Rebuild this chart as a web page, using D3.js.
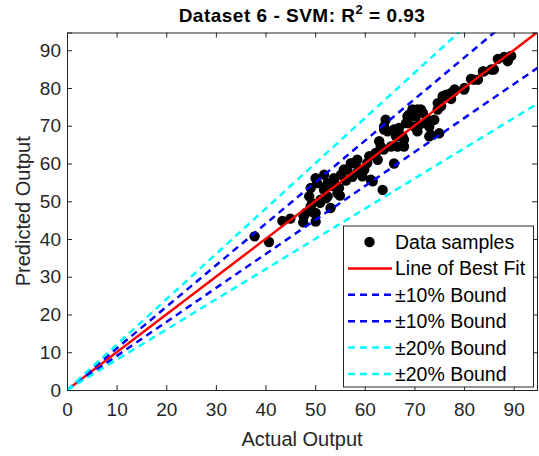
<!DOCTYPE html>
<html><head><meta charset="utf-8">
<script src="https://cdn.jsdelivr.net/npm/d3@7"></script>
<style>
html,body{margin:0;padding:0;background:#fff;}
svg{display:block;font-family:"Liberation Sans",Arial,Helvetica,sans-serif;}
</style></head>
<body>
<svg id="chart" width="539" height="456"></svg>
<script>
// Data: [actual, predicted]
const actual = [37.8,40.7,43.4,45,47.6,48.1,47.7,49.8,49.4,51,50.1,48.8,49.1,50.1,51.1,52.5,54.5,53.5,51.8,53.1,49.1,50.1,50.4,51.8,53.8,55.8,57.2,58.5,60.5,61.2,52.5,51.8,53.8,55.2,56.5,57.9,59.5,59.9,61.6,63.6,62.2,62.9,63.9,64.6,64.2,63.9,63.8,65.3,65.9,67.9,66.3,66.6,66.9,67.6,68.3,68.6,69.3,70,70.6,69.6,68.9,70.3,71.7,71,73,74,73,75,72,71.3,70.6,74.7,75.4,75.7,76.4,77.4,77.4,78.1,80.1,81.4,82.8,83.8,85.5,86.8,88.1,89.5,59.2,62.6,60.9,63.2,65.9,67.9,68.6,72.6,73.3,74.7,76,78,80,82,84,86,88.8,54.8,56.2,57.5,58.6,55,52.2];
const predicted = [40.7,39.2,44.8,45.4,44.4,46.9,46,46.9,49.5,49.6,44.6,51.3,48.6,46.9,50.4,51.3,52.1,54,53,48.2,53.5,56.1,54.8,57,55.7,58.4,60.1,61,60.1,55.7,54.8,53.5,56.1,57,58.4,60.1,56.6,58.4,55.3,53,62.8,65.9,69.8,68.5,71.6,69,63.7,64.5,60,64.5,67.2,64.5,69.4,67.2,70.7,70.7,72.5,69.8,74.3,74.3,72.9,72.5,73.4,70.3,69.8,71.6,67.2,68,70.7,74.3,68.5,74.3,75.2,77.8,78.2,77.1,78.7,79.6,80,82.4,82.2,84.4,84.9,87.7,88.2,88.5,58.4,61,61.9,64.5,69,66.3,72.5,71.6,67.6,76,77.8,79.1,79.6,82.2,84.4,84.9,87.1,53.5,55.5,56.5,57.8,51.5,50.8];
const xTicks = [0,10,20,30,40,50,60,70,80,90];
const yTicks = [0,10,20,30,40,50,60,70,80,90];
const boundFactors = [1, 1.1, 0.9, 1.2, 0.8];
const legendLabels = ["Data samples","Line of Best Fit","\u00b110% Bound","\u00b110% Bound","\u00b120% Bound","\u00b120% Bound"];

const svg = d3.select("#chart");
const L = 67, R = 537, T = 32.5, B = 390;
const axMax = 94.7;
const x = d3.scaleLinear().domain([0, axMax]).range([L, R]);
const y = d3.scaleLinear().domain([0, axMax]).range([B, T]);
const axisCol = "#262626";

svg.append("clipPath").attr("id","clip").append("rect")
  .attr("x",L).attr("y",T).attr("width",R-L).attr("height",B-T);

// Scatter
const pts = actual.map((a,i)=>[a,predicted[i]]);
svg.append("g").attr("clip-path","url(#clip)").selectAll("circle").data(pts).enter()
  .append("circle").attr("cx",d=>x(d[0])).attr("cy",d=>y(d[1])).attr("r",5.2).attr("fill","#000");

// Lines
const lineStyles = [
  {c:"#ff0000", dash:null},
  {c:"#0000ff", dash:"7,5"},
  {c:"#0000ff", dash:"7,5"},
  {c:"#00ffff", dash:"7,5"},
  {c:"#00ffff", dash:"7,5"}
];
const lg = svg.append("g").attr("clip-path","url(#clip)");
boundFactors.forEach((k,i)=>{
  lg.append("line")
    .attr("x1",x(0)).attr("y1",y(0))
    .attr("x2",x(100)).attr("y2",y(100*k))
    .attr("stroke",lineStyles[i].c).attr("stroke-width",2.5)
    .attr("stroke-dasharray",lineStyles[i].dash);
});

// Axes
const tickLen = 5;
const xAxB = d3.axisBottom(x).tickValues(xTicks).tickSize(-tickLen).tickPadding(13).tickFormat(d3.format("d"));
const xAxT = d3.axisTop(x).tickValues(xTicks).tickSize(-tickLen).tickFormat("");
const yAxL = d3.axisLeft(y).tickValues(yTicks).tickSize(-tickLen).tickPadding(6).tickFormat(d3.format("d"));
const yAxR = d3.axisRight(y).tickValues(yTicks).tickSize(-tickLen).tickFormat("");
function styleAx(g){
  g.selectAll("path").attr("stroke",axisCol).attr("stroke-width",1);
  g.selectAll("line").attr("stroke",axisCol).attr("stroke-width",1);
  g.selectAll("text").attr("fill",axisCol).style("font-size","19px").style("font-family","'Liberation Sans',Arial,sans-serif");
}
svg.append("g").attr("transform",`translate(0,${B})`).call(xAxB).call(styleAx);
svg.append("g").attr("transform",`translate(0,${T})`).call(xAxT).call(styleAx);
svg.append("g").attr("transform",`translate(${L},0)`).call(yAxL).call(styleAx);
svg.append("g").attr("transform",`translate(${R},0)`).call(yAxR).call(styleAx);

// Title
const title = svg.append("text").attr("x",(L+R)/2).attr("y",22).attr("text-anchor","middle")
  .attr("fill","#000").style("font-weight","bold").style("font-size","19px").style("letter-spacing","0.5px");
title.append("tspan").text("Dataset 6 - SVM: R");
title.append("tspan").attr("dy",-8).style("font-size","13px").text("2");
title.append("tspan").attr("dy",8).text(" = 0.93");

// Axis labels
svg.append("text").attr("x",(L+R)/2).attr("y",446).attr("text-anchor","middle")
  .attr("fill",axisCol).style("font-size","20px").text("Actual Output");
svg.append("text").attr("transform",`translate(30,${(T+B)/2}) rotate(-90)`).attr("text-anchor","middle")
  .attr("fill",axisCol).style("font-size","20px").text("Predicted Output");

// Legend
const lgX = 343.5, lgY = 226, lgW = 190, lgH = 161;
const leg = svg.append("g");
leg.append("rect").attr("x",lgX).attr("y",lgY).attr("width",lgW).attr("height",lgH)
  .attr("fill","#fff").attr("stroke",axisCol).attr("stroke-width",1);
const rowY0 = 242, rowDy = 26.4;
legendLabels.forEach((lab,i)=>{
  const yy = rowY0 + i*rowDy;
  if(i===0){
    leg.append("circle").attr("cx",369.5).attr("cy",yy).attr("r",5.2).attr("fill","#000");
  } else {
    const st = lineStyles[i-1];
    leg.append("line").attr("x1",348).attr("x2",392).attr("y1",yy).attr("y2",yy)
      .attr("stroke",st.c).attr("stroke-width",2.5).attr("stroke-dasharray",st.dash);
  }
  leg.append("text").attr("x",395).attr("y",yy+7).attr("fill","#000")
    .style("font-size","19.5px").text(lab);
});
</script>
</body></html>
